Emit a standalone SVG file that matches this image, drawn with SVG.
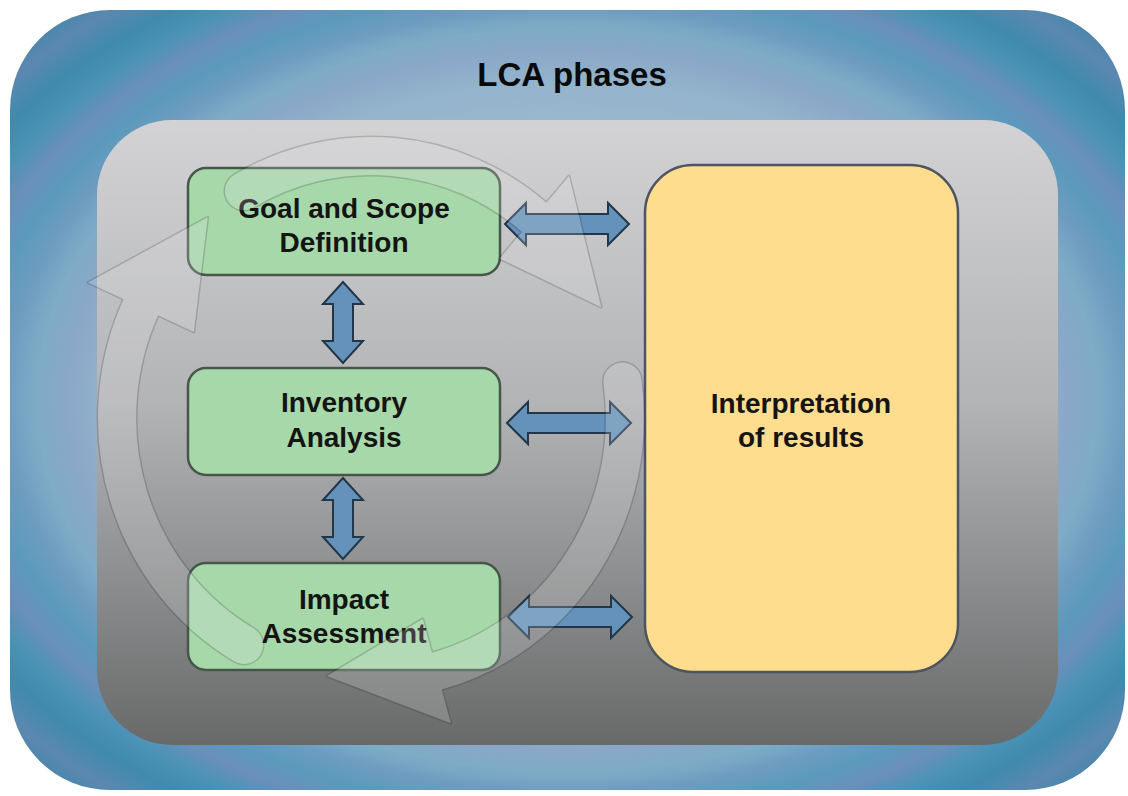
<svg xmlns="http://www.w3.org/2000/svg" width="1128" height="796" viewBox="0 0 1128 796">
  <defs>
    <radialGradient id="bgBlue" cx="0.5" cy="0.5" r="0.68">
      <stop offset="0" stop-color="#abc0d5"/>
      <stop offset="0.45" stop-color="#a2bad2"/>
      <stop offset="0.6" stop-color="#93b4cc"/>
      <stop offset="0.66" stop-color="#8aa7c8"/>
      <stop offset="0.7" stop-color="#7eacc6"/>
      <stop offset="0.74" stop-color="#6e9cc0"/>
      <stop offset="0.78" stop-color="#5b9abc"/>
      <stop offset="0.82" stop-color="#6a8fbb"/>
      <stop offset="0.86" stop-color="#4a93b6"/>
      <stop offset="0.9" stop-color="#3f8aae"/>
      <stop offset="0.95" stop-color="#5c88b0"/>
      <stop offset="1" stop-color="#3e86aa"/>
    </radialGradient>
    <linearGradient id="bgGray" x1="0" y1="0" x2="0" y2="1">
      <stop offset="0" stop-color="#d3d3d5"/>
      <stop offset="0.45" stop-color="#b3b4b6"/>
      <stop offset="1" stop-color="#686a6a"/>
    </linearGradient>
    <path id="hArrow" d="M0,0 L21,-21 L21,-10 L103,-10 L103,-21 L124,0 L103,21 L103,10 L21,10 L21,21 Z"/>
    <path id="vArrow" d="M0,0 L-20,22 L-10,22 L-10,59 L-20,59 L0,81 L20,59 L10,59 L10,22 L20,22 Z"/>
    <style>
      .box { fill: #a7d8aa; stroke: #46574a; stroke-width: 2.5; }
      .result { fill: #fedd8e; stroke: #4d5560; stroke-width: 2.5; }
      .label { font-family: "Liberation Sans", Arial, sans-serif; font-weight: bold; font-size: 28px; fill: #141414; text-anchor: middle; }
      .title { font-family: "Liberation Sans", Arial, sans-serif; font-weight: bold; font-size: 33px; fill: #0a0a0a; text-anchor: middle; }
      .conn { fill: #6592bb; stroke: #22364a; stroke-width: 2; stroke-linejoin: miter; }
      .ringOut { fill: none; stroke: #2a2a2a; stroke-width: 41; stroke-linecap: round; }
      .ringIn { fill: none; stroke: #e6e6e6; stroke-width: 38; stroke-linecap: round; }
      .headOut { fill: #2a2a2a; stroke: #2a2a2a; stroke-width: 3; stroke-linejoin: round; }
      .headIn { fill: #e6e6e6; stroke: none; }
    </style>
  </defs>

  <g id="background">
    <rect x="10" y="10" width="1115" height="780" rx="100" ry="100" fill="url(#bgBlue)"/>
    <rect x="97" y="120" width="961" height="625" rx="75" ry="75" fill="url(#bgGray)"/>
  </g>

  <g id="title">
    <text class="title" x="572" y="86">LCA phases</text>
  </g>

  <g id="node-goal">
    <rect class="box" x="188" y="168" width="312" height="107" rx="18" ry="18"/>
    <text class="label" x="344" y="218">Goal and Scope</text>
    <text class="label" x="344" y="252">Definition</text>
  </g>

  <g id="node-inventory">
    <rect class="box" x="188" y="368" width="312" height="107" rx="18" ry="18"/>
    <text class="label" x="344" y="412">Inventory</text>
    <text class="label" x="344" y="447">Analysis</text>
  </g>

  <g id="node-impact">
    <rect class="box" x="188" y="563" width="312" height="107" rx="18" ry="18"/>
    <text class="label" x="344" y="609">Impact</text>
    <text class="label" x="344" y="643">Assessment</text>
  </g>

  <g id="node-interpretation">
    <rect class="result" x="645" y="165" width="313" height="507" rx="48" ry="48"/>
    <text class="label" x="801" y="413">Interpretation</text>
    <text class="label" x="801" y="447">of results</text>
  </g>

  <g id="connectors">
    <use href="#hArrow" class="conn" transform="translate(505,224)"/>
    <use href="#hArrow" class="conn" transform="translate(507,423)"/>
    <use href="#hArrow" class="conn" transform="translate(508,617)"/>
    <use href="#vArrow" class="conn" transform="translate(343,282)"/>
    <use href="#vArrow" class="conn" transform="translate(343,478)"/>
  </g>

  <g id="cycle" opacity="0.2">
    <path class="ringOut" d="M244,644.9 A254,262 0 0 1 140.9,307.2"/>
    <path class="ringOut" d="M244,191.1 A254,262 0 0 1 534.3,217.3"/>
    <path class="ringOut" d="M622.5,381.6 A254,262 0 0 1 436.8,671.1"/>
    <polygon class="headOut" points="88,282.5 207.7,217.3 193.8,331.9"/>
    <polygon class="headOut" points="569,176 601.2,307.2 499.6,258.6"/>
    <polygon class="headOut" points="450.8,723.3 326.9,676 422.8,618.9"/>
    <path class="ringIn" d="M244,644.9 A254,262 0 0 1 140.9,307.2"/>
    <path class="ringIn" d="M244,191.1 A254,262 0 0 1 534.3,217.3"/>
    <path class="ringIn" d="M622.5,381.6 A254,262 0 0 1 436.8,671.1"/>
    <polygon class="headIn" points="88,282.5 207.7,217.3 193.8,331.9"/>
    <polygon class="headIn" points="569,176 601.2,307.2 499.6,258.6"/>
    <polygon class="headIn" points="450.8,723.3 326.9,676 422.8,618.9"/>
  </g>
</svg>
